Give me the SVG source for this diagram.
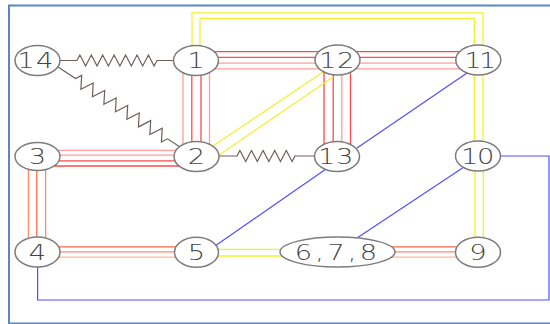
<svg xmlns="http://www.w3.org/2000/svg" width="550" height="324" viewBox="0 0 550 324">
  <style>
    .node ellipse { fill: #ffffff; stroke: #7d7d7d; stroke-width: 1.5; }
    .node text { font-family: "DejaVu Sans", "Liberation Sans", sans-serif; font-weight: 200; font-size: 21px; fill: #444444; text-anchor: middle; }
    .red { stroke: #ff4a4a; stroke-width: 1.3; fill: none; }
    .pink { stroke: #ff9c9c; stroke-width: 1.3; fill: none; }
    .orange { stroke: #ff6a40; stroke-width: 1.3; fill: none; }
    .coral { stroke: #ff8a68; stroke-width: 1.3; fill: none; }
    .peach { stroke: #ffb898; stroke-width: 1.3; fill: none; }
    .yellow { stroke: #f4f030; stroke-width: 1.3; fill: none; }
    .blue { stroke: #5050ff; stroke-width: 1.2; fill: none; }
    .spring { stroke: #6e5e5e; stroke-width: 1.2; fill: none; stroke-linejoin: miter; }
  </style>

  <!-- frame -->
  <rect x="9" y="5.5" width="546" height="318" fill="#ffffff" stroke="#5b86c6" stroke-width="2"/>

  <g id="connectors">
    <!-- springs -->
    <polyline class="spring" points="60,60.5 77,60.5 79.9,55 85.6,66 91.3,55 97,66 102.7,55 108.4,66 114.1,55 119.9,66 125.6,55 131.3,66 137,55 142.7,66 148.4,55 154.1,66 157,60.5 174,60.5"/>
    <polyline class="spring" transform="translate(58,67) rotate(33.25)" points="0,0 21,0 24.4,-6 31.3,6 38.2,-6 45.1,6 51.9,-6 58.8,6 65.7,-6 72.6,6 79.4,-6 86.3,6 93.2,-6 100.1,6 106.9,-6 113.8,6 120.7,-6 127.6,6 131,0 145.9,0"/>
    <polyline class="spring" points="218,156 237,156 239.9,150.5 245.7,161.5 251.5,150.5 257.3,161.5 263.1,150.5 268.9,161.5 274.7,150.5 280.5,161.5 286.3,150.5 292.1,161.5 295,156 316,156"/>

    <!-- 1 - 12 -->
    <line class="red" x1="196" y1="51.7" x2="337" y2="51.7"/>
    <line class="red" x1="196" y1="57.4" x2="337" y2="57.4"/>
    <line class="pink" x1="196" y1="63.2" x2="337" y2="63.2"/>
    <line class="pink" x1="196" y1="68.8" x2="337" y2="68.8"/>
    <!-- 12 - 11 -->
    <line class="red" x1="337" y1="51.7" x2="478" y2="51.7"/>
    <line class="red" x1="337" y1="57.4" x2="478" y2="57.4"/>
    <line class="pink" x1="337" y1="63.2" x2="478" y2="63.2"/>
    <line class="pink" x1="337" y1="68.8" x2="478" y2="68.8"/>
    <!-- 1 - 2 -->
    <line class="pink" x1="183" y1="60" x2="183" y2="156"/>
    <line class="red" x1="191.8" y1="60" x2="191.8" y2="156"/>
    <line class="red" x1="201" y1="60" x2="201" y2="156"/>
    <line class="pink" x1="209.5" y1="60" x2="209.5" y2="156"/>
    <!-- 12 - 13 -->
    <line class="red" x1="324" y1="60" x2="324" y2="156"/>
    <line class="red" x1="333.2" y1="60" x2="333.2" y2="156"/>
    <line class="pink" x1="341.8" y1="60" x2="341.8" y2="156"/>
    <line class="red" x1="350.5" y1="60" x2="350.5" y2="156"/>
    <!-- 3 - 2 -->
    <line class="pink" x1="38" y1="150.3" x2="196" y2="150.3"/>
    <line class="pink" x1="38" y1="155.2" x2="196" y2="155.2"/>
    <line class="red" x1="38" y1="160.8" x2="196" y2="160.8"/>
    <line class="red" x1="38" y1="166" x2="196" y2="166"/>
    <!-- 3 - 4 -->
    <line class="coral" x1="28.4" y1="156" x2="28.4" y2="252"/>
    <line class="orange" x1="36.8" y1="156" x2="36.8" y2="252"/>
    <line class="coral" x1="45.6" y1="156" x2="45.6" y2="252"/>
    <!-- 4 - 5 -->
    <line class="orange" x1="38" y1="246.8" x2="196" y2="246.8"/>
    <line class="coral" x1="38" y1="251.8" x2="196" y2="251.8"/>
    <line class="peach" x1="38" y1="257.2" x2="196" y2="257.2"/>
    <!-- 6,7,8 - 9 -->
    <line class="orange" x1="337" y1="246.8" x2="478" y2="246.8"/>
    <line class="coral" x1="337" y1="251.8" x2="478" y2="251.8"/>
    <line class="peach" x1="337" y1="257.2" x2="478" y2="257.2"/>

    <!-- yellow pairs -->
    <line class="yellow" x1="196" y1="249.4" x2="337" y2="249.4"/>
    <line class="yellow" x1="196" y1="256" x2="337" y2="256"/>
    <line class="yellow" x1="213" y1="146" x2="323" y2="72"/>
    <line class="yellow" x1="219" y1="155" x2="333" y2="77"/>
    <polyline class="yellow" points="192,50 192,12.8 483,12.8 483,60"/>
    <polyline class="yellow" points="200,50 200,18.3 474.3,18.3 474.3,60"/>
    <line class="yellow" x1="474.3" y1="60" x2="474.3" y2="156"/>
    <line class="yellow" x1="483" y1="60" x2="483" y2="156"/>
    <line class="yellow" x1="475" y1="156" x2="475" y2="252"/>
    <line class="yellow" x1="483.3" y1="156" x2="483.3" y2="252"/>

    <!-- blue links -->
    <line class="blue" x1="467" y1="73" x2="357" y2="148"/>
    <line class="blue" x1="326" y1="169" x2="215" y2="246"/>
    <line class="blue" x1="464" y1="167" x2="357" y2="238"/>
    <polyline class="blue" points="500,156 549,156 549,300 37.6,300 37.6,266"/>
  </g>

  <!-- node labels are drawn in a horizontally widened face -->
  <g id="node-14" class="node"><ellipse cx="37.5" cy="60.5" rx="22.5" ry="15"/><text transform="translate(36,68) scale(1.3,1)" letter-spacing="1">14</text></g>
  <g id="node-1" class="node"><ellipse cx="196" cy="60.5" rx="22.5" ry="15"/><text transform="translate(196,68) scale(1.3,1)">1</text></g>
  <g id="node-12" class="node"><ellipse cx="337.5" cy="60" rx="22.5" ry="15"/><text transform="translate(337,67.5) scale(1.3,1)" letter-spacing="0.5">12</text></g>
  <g id="node-11" class="node"><ellipse cx="478.3" cy="60" rx="22.5" ry="15"/><text transform="translate(479,67.5) scale(1.3,1)" letter-spacing="-2">11</text></g>
  <g id="node-3" class="node"><ellipse cx="37.5" cy="156.5" rx="22.5" ry="14"/><text transform="translate(37.5,164) scale(1.3,1)">3</text></g>
  <g id="node-2" class="node"><ellipse cx="196.5" cy="156.5" rx="22.5" ry="15"/><text transform="translate(196.5,164) scale(1.3,1)">2</text></g>
  <g id="node-13" class="node"><ellipse cx="337" cy="156.5" rx="22.5" ry="15"/><text transform="translate(336,164) scale(1.3,1)" letter-spacing="0.5">13</text></g>
  <g id="node-10" class="node"><ellipse cx="478" cy="156" rx="22.5" ry="15"/><text transform="translate(477,163.5) scale(1.3,1)" letter-spacing="-1">10</text></g>
  <g id="node-4" class="node"><ellipse cx="37.5" cy="252" rx="22.5" ry="15"/><text transform="translate(37.5,259.5) scale(1.3,1)">4</text></g>
  <g id="node-5" class="node"><ellipse cx="196.5" cy="252.3" rx="22" ry="15"/><text transform="translate(196.5,259.8) scale(1.3,1)">5</text></g>
  <g id="node-678" class="node"><ellipse cx="337.5" cy="252" rx="57.5" ry="15"/><text transform="translate(337.5,259.5) scale(1.3,1)" letter-spacing="2.5">6,7,8</text></g>
  <g id="node-9" class="node"><ellipse cx="478" cy="252.3" rx="22.5" ry="15"/><text transform="translate(478,259.8) scale(1.3,1)">9</text></g>
</svg>
